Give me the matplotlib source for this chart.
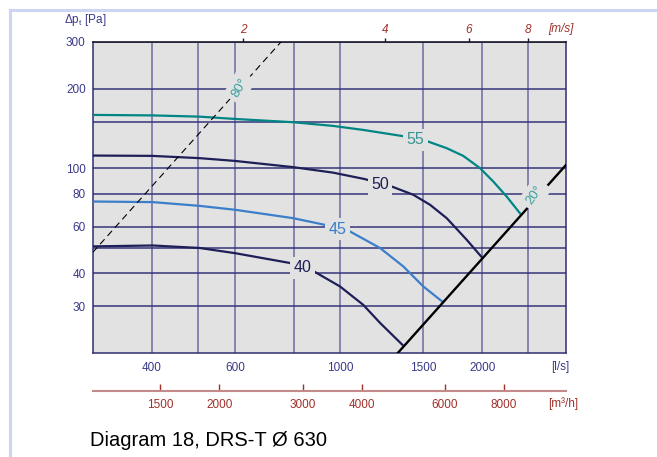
import matplotlib.pyplot as plt
from matplotlib.lines import Line2D
from matplotlib.ticker import NullLocator

plt.rcParams['font.family'] = ['Liberation Sans', 'DejaVu Sans']
plt.rcParams['mathtext.fontset'] = 'custom'
plt.rcParams['mathtext.rm'] = 'Liberation Sans'
plt.rcParams['mathtext.it'] = 'Liberation Sans:italic'

# flow [l/s] vs total pressure [Pa] (sound level in dB(A))
q_55 = [300, 402, 505, 600, 796, 966, 1120, 1350, 1537, 1681, 1822, 1977, 2109, 2251, 2400]
p_55 = [159, 158.3, 156.6, 153.5, 149.2, 144.5, 139.5, 132.4, 126, 119, 111.3, 100, 89, 78.1, 67.6]

q_50 = [300, 400, 505, 600, 796, 966, 1129, 1296, 1429, 1550, 1681, 1853, 1993]
p_50 = [111.6, 111.3, 109.1, 106.5, 100.9, 96.2, 90.9, 84.8, 79.3, 72.7, 64.7, 53.6, 46.1]

q_45 = [300, 402, 505, 600, 796, 931, 1050, 1215, 1361, 1500, 1645]
p_45 = [74.8, 74.4, 72.0, 69.6, 64.7, 61.0, 57.6, 49.9, 42.5, 35.7, 31.3]

q_40 = [300, 402, 505, 600, 783, 885, 1000, 1120, 1215, 1354]
p_40 = [50.6, 51.0, 49.9, 47.7, 43.8, 40.5, 35.7, 30.4, 26.0, 21.5]

# damper position lines (p ~ q^2)
q_20deg = [1325, 3000]
p_20deg = [20, 102.5]
q_80deg = [300, 750]
p_80deg = [48, 300]

x_grid = [400, 500, 600, 800, 1000, 1500, 2000, 2500]
x_labels = ['400', '', '600', '', '1000', '1500', '2000', '']
y_grid = [30, 40, 50, 60, 80, 100, 150, 200, 300]
y_labels = ['30', '40', '', '60', '80', '100', '', '200', '300']
v_ticks = [2, 4, 6, 8]
m3h_ticks = [1500, 2000, 3000, 4000, 6000, 8000]

NAVY = '#3a3a8a'
RED = '#a0302a'
BG = '#e2e2e2'
TEAL = '#008585'

fig = plt.figure(figsize=(6.57, 4.57), dpi=100)
ax = fig.add_axes([0.1411, 0.2276, 0.7199, 0.6805])
ax.set_xscale('log')
ax.set_yscale('log')
ax.set_xlim(300, 3000)
ax.set_ylim(20, 300)
ax.set_facecolor(BG)

ax.set_xticks(x_grid, x_labels)
ax.set_yticks(y_grid, y_labels)
ax.xaxis.set_minor_locator(NullLocator())
ax.yaxis.set_minor_locator(NullLocator())
ax.tick_params(length=0, labelsize=8.5, labelcolor=NAVY)
ax.tick_params(axis='x', pad=6.5)
ax.tick_params(axis='y', pad=5)
ax.grid(axis='y', color='#35357a', lw=1.1)
ax.grid(axis='x', color='#6a6aa0', lw=1.1)
ax.set_axisbelow(True)
for side in ['left', 'bottom', 'right']:
    ax.spines[side].set_color('#2e2e70')
    ax.spines[side].set_linewidth(1.1)
ax.spines['top'].set_color('#1a1a2a')
ax.spines['top'].set_linewidth(1.2)

ax.plot(q_55, p_55, color=TEAL, lw=1.6, zorder=3)
ax.plot(q_50, p_50, color='#1e1e58', lw=1.6, zorder=3)
ax.plot(q_45, p_45, color='#3b7ec9', lw=1.6, zorder=3)
ax.plot(q_40, p_40, color='#1e1e58', lw=1.6, zorder=3)
ax.plot(q_20deg, p_20deg, color='black', lw=1.7, zorder=3)
ax.plot(q_80deg, p_80deg, color='black', lw=0.8, dashes=(6, 4), zorder=3)

box = dict(facecolor=BG, edgecolor='none', pad=2.5)
ax.text(1445, 128, '55', color='#3a9595', fontsize=11.5, ha='center', va='center', bbox=box, zorder=5)
ax.text(1215, 86.5, '50', color='#1e1e58', fontsize=11.5, ha='center', va='center', bbox=box, zorder=5)
ax.text(990, 58.8, '45', color='#3b7ec9', fontsize=11.5, ha='center', va='center', bbox=box, zorder=5)
ax.text(834, 42.0, '40', color='#1e1e58', fontsize=11.5, ha='center', va='center', bbox=box, zorder=5)
ax.text(613, 202, '80°', color='#3aa0a0', fontsize=9.5, rotation=60, ha='center', va='center',
        bbox=dict(facecolor=BG, edgecolor='none', pad=3.5), zorder=5)
ax.text(2582, 79.3, '20°', color='#3aa0a0', fontsize=9.5, rotation=55, ha='center', va='center',
        bbox=dict(facecolor=BG, edgecolor='none', pad=3.5), zorder=5)

# air velocity in the Ø630 duct on top
top = ax.secondary_xaxis('top', functions=(lambda q: q / 311.7, lambda v: v * 311.7))
top.set_xticks(v_ticks, [str(v) for v in v_ticks])
top.xaxis.set_minor_locator(NullLocator())
top.tick_params(direction='out', length=3, width=1, color='#1a1a2a', labelsize=8.5,
                labelcolor=RED, pad=1.5)
for lab in top.get_xticklabels():
    lab.set_fontstyle('italic')
top.spines['top'].set_visible(False)

# m3/h scale below
low = ax.secondary_xaxis(-0.122, functions=(lambda q: q * 3.6, lambda m: m / 3.6))
low.set_xticks(m3h_ticks, [str(m) for m in m3h_ticks])
low.xaxis.set_minor_locator(NullLocator())
low.tick_params(direction='in', length=5, width=1, color=RED, labelsize=8.5,
                labelcolor=RED, pad=6)
low.spines['bottom'].set_color('#c48a8a')
low.spines['bottom'].set_linewidth(1.5)

fig.text(560 / 657, 1 - 366.7 / 457, '[l/s]', color=NAVY, fontsize=8.5, ha='center', va='center')
fig.text(562.7 / 657, 1 - 403.5 / 457, '[m³/h]', color=RED, fontsize=8.5, ha='center', va='center')
fig.text(561 / 657, 1 - 29.3 / 457, '[m/s]', color=RED, fontsize=8.5, style='italic',
         ha='center', va='center')
fig.text(64 / 657, 1 - 20 / 457, r'$\Delta$p$_\mathrm{t}$ [Pa]', color=NAVY, fontsize=8.5,
         ha='left', va='center')
fig.text(90 / 657, 1 - 446 / 457, 'Diagram 18, DRS-T Ø 630', color='black', fontsize=14.5,
         ha='left', va='baseline')

# light frame round the diagram
fig.add_artist(Line2D([10 / 657, 1], [1 - 9.5 / 457] * 2, color='#ccd6f2', lw=2.2))
fig.add_artist(Line2D([10 / 657] * 2, [0, 1 - 9.5 / 457], color='#ccd6f2', lw=2.2))

fig.savefig('out.png', dpi=100)
